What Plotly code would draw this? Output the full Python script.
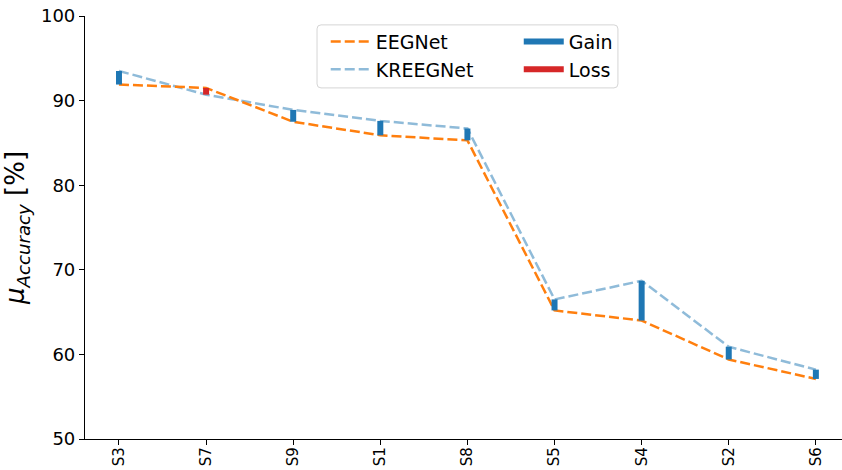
import plotly.graph_objects as go

# Per-subject mean accuracy (%), subjects ordered by EEGNet score
subjects = ["S3", "S7", "S9", "S1", "S8", "S5", "S4", "S2", "S6"]
eegnet_acc = [91.9, 91.5, 87.5, 85.9, 85.3, 65.2, 64.0, 59.4, 57.1]
kreegnet_acc = [93.5, 90.7, 88.9, 87.6, 86.7, 66.5, 68.7, 60.9, 58.2]
y_ticks = [50, 60, 70, 80, 90, 100]

ORANGE = "#ff7f0e"
BLUE = "#1f77b4"
LIGHT_BLUE = "rgba(31,119,180,0.5)"
RED = "#d62728"
FONT = "DejaVu Sans"

x_idx = list(range(len(subjects)))

# Vertical segments between the two models: gain where KREEGNet is higher, loss otherwise
gain_x, gain_y, loss_x, loss_y = [], [], [], []
for i, (e, k) in enumerate(zip(eegnet_acc, kreegnet_acc)):
    if k >= e:
        gain_x += [i, i, None]
        gain_y += [e, k, None]
    else:
        loss_x += [i, i, None]
        loss_y += [e, k, None]

fig = go.Figure()

fig.add_trace(go.Scatter(
    x=x_idx, y=kreegnet_acc, mode="lines", name="KREEGNet",
    line=dict(color=LIGHT_BLUE, width=2.5, dash="10px,4px"),
    legend="legend", legendrank=2,
))
fig.add_trace(go.Scatter(
    x=x_idx, y=eegnet_acc, mode="lines", name="EEGNet",
    line=dict(color=ORANGE, width=2.5, dash="10px,4px"),
    legend="legend", legendrank=1,
))
fig.add_trace(go.Scatter(
    x=gain_x, y=gain_y, mode="lines", name="Gain",
    line=dict(color=BLUE, width=6),
    legend="legend2", legendrank=1,
))
fig.add_trace(go.Scatter(
    x=loss_x, y=loss_y, mode="lines", name="Loss",
    line=dict(color=RED, width=6),
    legend="legend2", legendrank=2,
))

# Shared frame around both legend columns (rounded corners)
x0, x1, y0, y1 = 0.3065, 0.704, 0.830, 0.979
rx, ry = 4 / 757, 4 / 423
path = (
    f"M{x0+rx},{y0} L{x1-rx},{y0} Q{x1},{y0} {x1},{y0+ry} "
    f"L{x1},{y1-ry} Q{x1},{y1} {x1-rx},{y1} "
    f"L{x0+rx},{y1} Q{x0},{y1} {x0},{y1-ry} "
    f"L{x0},{y0+ry} Q{x0},{y0} {x0+rx},{y0} Z"
)
fig.add_shape(type="path", path=path, xref="paper", yref="paper",
              line=dict(color="#d5d5d5", width=1),
              fillcolor="rgba(255,255,255,0.8)", layer="below")

legend_style = dict(
    bgcolor="rgba(0,0,0,0)", borderwidth=0,
    font=dict(family=FONT, size=19, color="#000000"),
    yanchor="top", xanchor="left", tracegroupgap=0,
    traceorder="normal", itemwidth=40,
)

fig.update_layout(
    width=842, height=470,
    margin=dict(l=85, r=0, t=16, b=31),
    plot_bgcolor="white", paper_bgcolor="white",
    font=dict(family=FONT, color="#000000"),
    legend=dict(x=0.318, y=0.984, **legend_style),
    legend2=dict(x=0.573, y=0.984, **legend_style),
    xaxis=dict(
        tickmode="array", tickvals=x_idx, ticktext=subjects,
        range=[-0.39, 8.30], tickangle=-90, automargin=False,
        tickfont=dict(family=FONT, size=15, color="#000000"),
        ticklabelstandoff=-4,
        showline=True, linecolor="#000000", linewidth=1.2,
        ticks="outside", ticklen=5, tickwidth=1, tickcolor="#000000",
        showgrid=False, zeroline=False,
    ),
    yaxis=dict(
        range=[50, 100], tickvals=y_ticks, automargin=False,
        tickfont=dict(family=FONT, size=18, color="#000000"),
        showline=True, linecolor="#000000", linewidth=1.2,
        ticks="outside", ticklen=5, tickwidth=1, tickcolor="#000000",
        showgrid=False, zeroline=False,
        title=dict(
            text="<i>μ</i><sub><i>Accuracy</i></sub> [%]",
            font=dict(family=FONT, size=26, color="#000000"),
            standoff=8,
        ),
    ),
)

fig.write_html("out.html")
